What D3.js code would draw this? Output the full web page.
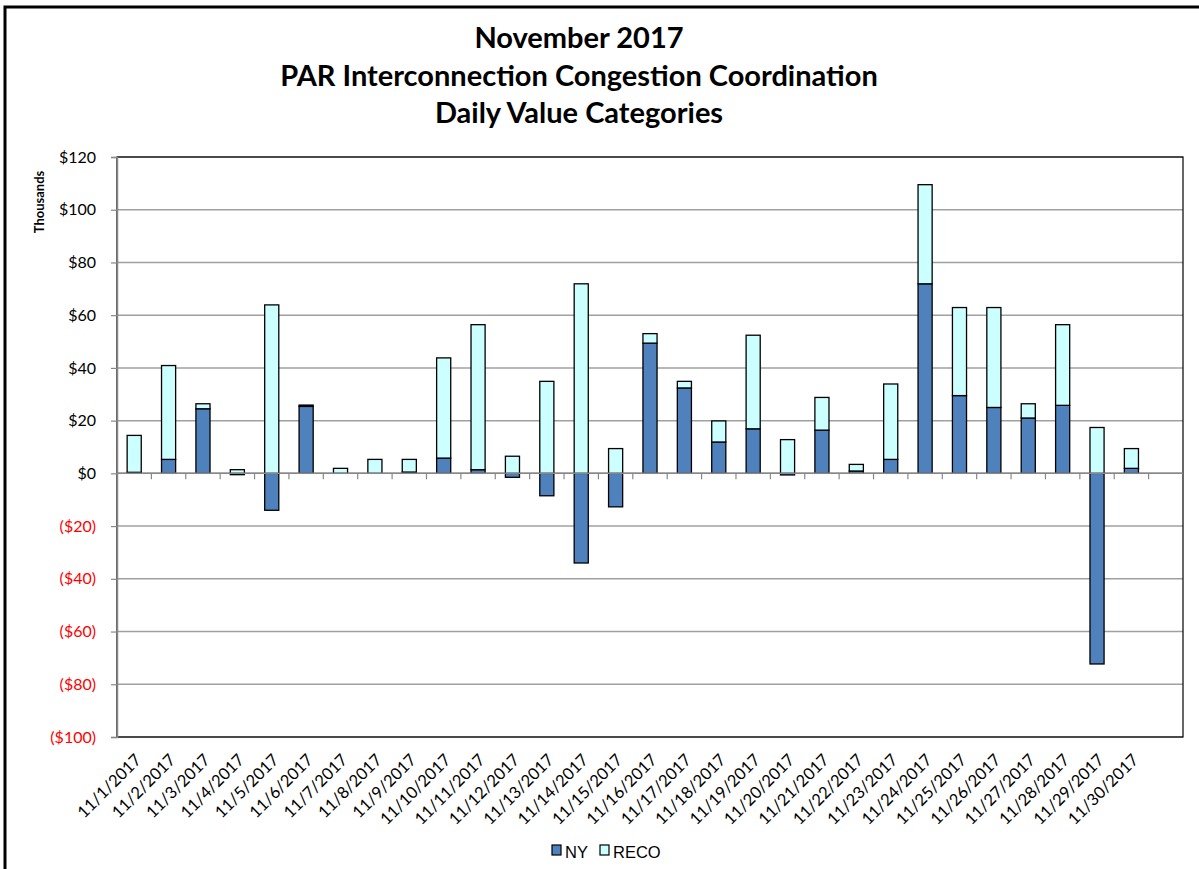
<!DOCTYPE html>
<html><head><meta charset="utf-8">
<script src="https://cdn.jsdelivr.net/npm/d3@7/dist/d3.min.js"></script>
<style>body{margin:0;background:#fff}svg{display:block}</style>
</head><body><svg id="c" width="1199" height="869"></svg>
<script>
const titleLines = ["November 2017", "PAR Interconnection Congestion Coordination", "Daily Value Categories"];
const categories = ["11/1/2017","11/2/2017","11/3/2017","11/4/2017","11/5/2017","11/6/2017","11/7/2017","11/8/2017","11/9/2017","11/10/2017","11/11/2017","11/12/2017","11/13/2017","11/14/2017","11/15/2017","11/16/2017","11/17/2017","11/18/2017","11/19/2017","11/20/2017","11/21/2017","11/22/2017","11/23/2017","11/24/2017","11/25/2017","11/26/2017","11/27/2017","11/28/2017","11/29/2017","11/30/2017"];
// values in $ thousands
const nyValues   = [0.4, 5.3, 24.5, -0.5, -14.0, 25.4, 0, 0, 0.5, 5.8, 1.4, -1.5, -8.5, -34.0, -12.7, 49.4, 32.4, 11.9, 16.9, -0.6, 16.4, 0.9, 5.3, 71.9, 29.5, 25.0, 21.0, 25.8, -72.3, 1.9];
const recoValues = [14.0, 35.6, 1.9, 1.4, 63.9, 0.5, 1.9, 5.3, 4.8, 38.0, 55.0, 6.5, 34.9, 71.9, 9.4, 3.6, 2.5, 8.0, 35.5, 12.8, 12.4, 2.5, 28.6, 37.6, 33.4, 37.9, 5.4, 30.6, 17.4, 7.5];
const seriesNames = ["NY", "RECO"];
const seriesColors = ["#4F81BD", "#CCFFFF"];
const yTicks = [-100, -80, -60, -40, -20, 0, 20, 40, 60, 80, 100, 120];
const axisTitle = "Thousands";

const svg = d3.select("#c");
const pL = 117, pR = 1183, pT = 157, pB = 737;

// outer chart border
svg.append("rect").attr("x", 5).attr("y", 7).attr("width", 1220).attr("height", 900)
  .attr("fill", "#fff").attr("stroke", "#000").attr("stroke-width", 3);

// title
svg.append("g").selectAll("text").data(titleLines).join("text")
  .attr("x", 579).attr("y", (d, i) => 48 + i * 37.5)
  .attr("text-anchor", "middle")
  .attr("font-family", "Lato, 'Open Sans', sans-serif").attr("font-weight", "bold")
  .attr("font-size", 29).attr("fill", "#000").text(d => d);

const slots = categories.concat([""]); // Excel leaves an empty trailing slot
const x = d3.scaleBand().domain(slots.map((d, i) => i)).range([pL, pR]).paddingInner(0.59).paddingOuter(0.295);
const y = d3.scaleLinear().domain([-100, 120]).range([pB, pT]);

// gridlines
svg.append("g").selectAll("line").data(yTicks).join("line")
  .attr("x1", pL).attr("x2", pR).attr("y1", d => y(d)).attr("y2", d => y(d))
  .attr("stroke", "#a0a0a0").attr("stroke-width", 1.5);

// plot border
svg.append("rect").attr("x", pL).attr("y", pT).attr("width", pR - pL).attr("height", pB - pT)
  .attr("fill", "none").attr("stroke", "#000").attr("stroke-width", 1.2);

// y axis
const fmt = v => v < 0 ? "($" + Math.abs(v) + ")" : "$" + v;
const yAxis = svg.append("g").attr("transform", `translate(${pL},0)`)
  .call(d3.axisLeft(y).tickValues(yTicks).tickSize(6).tickPadding(15).tickFormat(fmt));
yAxis.select(".domain").attr("stroke", "#888").attr("stroke-width", 1.5);
yAxis.selectAll(".tick line").attr("stroke", "#888").attr("stroke-width", 1.2);
yAxis.selectAll(".tick text").attr("font-family", "Lato, 'Open Sans', sans-serif").attr("font-size", 16)
  .attr("fill", d => d < 0 ? "#FF0000" : "#000");

svg.append("text").attr("transform", "translate(44,202) rotate(-90)")
  .attr("text-anchor", "middle").attr("font-family", "Lato, 'Open Sans', sans-serif")
  .attr("font-weight", "bold").attr("font-size", 13).text(axisTitle);

// stacked bars
const rows = categories.map((c, i) => ({ idx: i, NY: nyValues[i], RECO: recoValues[i] }));
const stack = d3.stack().keys(seriesNames).offset(d3.stackOffsetDiverging)(rows);
svg.append("g").selectAll("g").data(stack).join("g")
  .attr("fill", (d, i) => seriesColors[i])
  .selectAll("rect").data(d => d).join("rect")
  .attr("x", d => x(d.data.idx)).attr("width", x.bandwidth())
  .attr("y", d => y(Math.max(d[0], d[1])))
  .attr("height", d => Math.abs(y(d[0]) - y(d[1])))
  .attr("stroke", "#000").attr("stroke-width", 1.3);

// category axis at zero
const step = x.step();
const boundaries = d3.range(1, slots.length).map(k => pL + k * step);
const xg = svg.append("g");
xg.append("line").attr("x1", pL).attr("x2", pR).attr("y1", y(0)).attr("y2", y(0))
  .attr("stroke", "#888").attr("stroke-width", 1.5);
xg.selectAll("line.t").data(boundaries).join("line").attr("class", "t")
  .attr("x1", d => d).attr("x2", d => d).attr("y1", y(0)).attr("y2", y(0) + 6)
  .attr("stroke", "#888").attr("stroke-width", 1.2);

// category labels
svg.append("g").selectAll("text").data(categories).join("text")
  .attr("transform", (d, i) => `translate(${x(i) + x.bandwidth() / 2 + 8},${pB + 24}) rotate(-45)`)
  .attr("text-anchor", "end")
  .attr("font-family", "Lato, 'Open Sans', sans-serif").attr("font-size", 16.5).attr("fill", "#000")
  .text(d => d);

// legend
const legendX = [552, 600];
const lg = svg.append("g").selectAll("g").data(seriesNames).join("g")
  .attr("transform", (d, i) => `translate(${legendX[i]},845)`);
lg.append("rect").attr("width", 9).attr("height", 10)
  .attr("fill", (d, i) => seriesColors[i]).attr("stroke", "#000").attr("stroke-width", 1.2);
lg.append("text").attr("x", 13).attr("y", 13)
  .attr("font-family", "'Liberation Sans', Arial, sans-serif").attr("font-size", 16.5).text(d => d);
</script></body></html>
